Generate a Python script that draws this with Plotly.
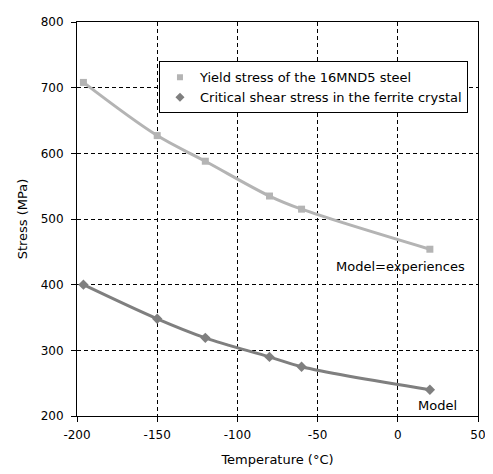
import plotly.graph_objects as go

# values
temp = [-196, -150, -120, -80, -60, 20]
yield_stress = [708, 627, 588, 535, 515, 454]
shear_stress = [400, 348, 319, 290, 275, 240]

x_ticks = [-200, -150, -100, -50, 0, 50]
x_labels = ["-200", "-150", "-100", "-50", "0", "50"]
y_ticks = [200, 300, 400, 500, 600, 700, 800]

light = "#b4b4b4"
dark = "#7f7f7f"
fnt = dict(family="DejaVu Sans, Liberation Sans, sans-serif", size=13, color="black")
tick_fnt = dict(fnt, size=12)

fig = go.Figure()
fig.add_trace(go.Scatter(
    x=temp, y=yield_stress, mode="lines+markers", showlegend=False,
    line=dict(color=light, width=3, shape="spline"),
    marker=dict(symbol="square", size=7, color=light),
))
fig.add_trace(go.Scatter(
    x=temp, y=shear_stress, mode="lines+markers", showlegend=False,
    line=dict(color=dark, width=3, shape="spline"),
    marker=dict(symbol="diamond", size=8, color=dark),
))
# legend entries show only the marker, like the original
fig.add_trace(go.Scatter(
    x=[None], y=[None], mode="markers", name="Yield stress of the 16MND5 steel",
    marker=dict(symbol="square", size=6, color=light),
))
fig.add_trace(go.Scatter(
    x=[None], y=[None], mode="markers", name="Critical shear stress in the ferrite crystal",
    marker=dict(symbol="diamond", size=7, color=dark),
))

fig.add_annotation(x=43, y=428, text="Model=experiences", showarrow=False,
                   xanchor="right", font=fnt)
fig.add_annotation(x=25, y=216, text="Model", showarrow=False,
                   xanchor="center", font=fnt)

axis = dict(showline=True, linecolor="black", linewidth=1, mirror=True,
            ticks="outside", ticklen=5, tickcolor="black",
            showgrid=True, gridcolor="black", griddash="4px,3px", gridwidth=1,
            zeroline=False, tickfont=tick_fnt)

# page body adds an 8px offset, margins compensate for it
fig.update_layout(
    width=485, height=466,
    paper_bgcolor="white", plot_bgcolor="white",
    margin=dict(l=69, r=12, t=7, b=58),
    font=fnt,
    xaxis=dict(axis, range=[-200, 50], tickvals=x_ticks, ticktext=x_labels,
               ticklabelstandoff=3,
               title=dict(text="Temperature (°C)", font=fnt, standoff=13)),
    yaxis=dict(axis, range=[200, 800], tickvals=y_ticks, ticklabelstandoff=5,
               title=dict(text="Stress (MPa)", font=fnt, standoff=10)),
    legend=dict(x=0.975, y=0.9, xanchor="right", yanchor="top",
                bgcolor="white", bordercolor="black", borderwidth=1,
                font=fnt, tracegroupgap=0, itemwidth=30),
)

fig.write_html("out.html")
